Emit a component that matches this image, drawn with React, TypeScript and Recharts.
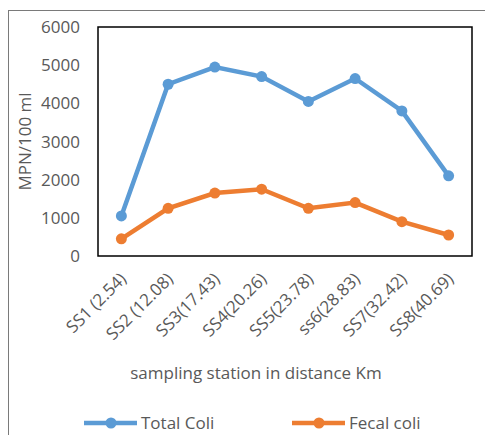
import { LineChart, Line, XAxis, YAxis, Legend, ReferenceArea } from "recharts"

const stations = ["SS1 (2.54)", "SS2 (12.08)", "SS3(17.43)", "SS4(20.26)", "SS5(23.78)", "ss6(28.83)", "SS7(32.42)", "SS8(40.69)"]
const totalColi = [1050, 4500, 4950, 4700, 4050, 4650, 3800, 2100]
const fecalColi = [450, 1250, 1650, 1750, 1250, 1400, 900, 550]
const yTicks = [0, 1000, 2000, 3000, 4000, 5000, 6000]

// stations are placed by index on a numeric axis so the plot box has half a category on each side
const data = stations.map((s, i) => ({ idx: i, station: s, total: totalColi[i], fecal: fecalColi[i] }))
const xTicks = stations.map((_, i) => i)

const FONT = "'Open Sans', sans-serif"
const TEXT = "#595959"
const BLUE = "#5B9BD5"
const ORANGE = "#ED7D31"

const XTick = (props: any) => {
  const { x, y, payload } = props
  return (
    <g transform={`translate(${x + 6},${y + 16})`}>
      <text x={0} y={0} textAnchor="end" transform="rotate(-45)" fill={TEXT} fontSize={17} fontFamily={FONT}>
        {stations[payload.value]}
      </text>
    </g>
  )
}

const LegendContent = () => {
  const items = [
    { name: "Total Coli", color: BLUE, x: 84 },
    { name: "Fecal coli", color: ORANGE, x: 292 },
  ]
  return (
    <svg width={485} height={30} style={{ display: "block" }}>
      {items.map((it) => (
        <g key={it.name}>
          <line x1={it.x} x2={it.x + 53} y1={13} y2={13} stroke={it.color} strokeWidth={4.5} />
          <circle cx={it.x + 27} cy={13} r={5.5} fill={it.color} />
          <text x={it.x + 57} y={19} fill={TEXT} fontSize={17} fontFamily={FONT}>
            {it.name}
          </text>
        </g>
      ))}
    </svg>
  )
}

export default function App() {
  return (
    <div style={{ position: "absolute", left: 0, top: 0, width: 485, height: 435, overflow: "hidden", background: "#fff" }}>
      <div style={{ position: "absolute", left: 8, top: 10, width: 500, height: 460, border: "1px solid #7a7a7a" }} />
      <LineChart
        width={485}
        height={435}
        data={data}
        margin={{ top: 27, right: 13, left: 38, bottom: 0 }}
        style={{ position: "absolute", left: 0, top: 0 }}
      >
        <XAxis
          dataKey="idx"
          type="number"
          domain={[-0.5, stations.length - 0.5]}
          ticks={xTicks}
          height={149}
          interval={0}
          tickLine={false}
          axisLine={false}
          tick={<XTick />}
          label={{ value: "sampling station in distance Km", position: "insideBottom", offset: 26, dx: -29, fill: TEXT, fontSize: 17, fontFamily: FONT }}
        />
        <YAxis
          width={60}
          domain={[0, 6000]}
          ticks={yTicks}
          tickLine={false}
          tickMargin={12}
          axisLine={false}
          tick={{ fill: TEXT, fontSize: 17, fontFamily: FONT }}
          label={{ value: "MPN/100 ml", angle: -90, position: "insideLeft", offset: -13, fill: TEXT, fontSize: 17, fontFamily: FONT, style: { textAnchor: "middle" } }}
        />
        <ReferenceArea y1={0} y2={6000} fill="#fff" fillOpacity={0} stroke="#000" strokeWidth={1.5} ifOverflow="visible" />
        <Legend layout="vertical" align="center" verticalAlign="bottom" content={<LegendContent />} wrapperStyle={{ position: "absolute", left: 0, top: 410, width: 485 }} />
        <Line
          dataKey="total"
          name="Total Coli"
          stroke={BLUE}
          strokeWidth={4.5}
          dot={{ r: 5.5, fill: BLUE, stroke: BLUE, strokeWidth: 0 }}
          isAnimationActive={false}
        />
        <Line
          dataKey="fecal"
          name="Fecal coli"
          stroke={ORANGE}
          strokeWidth={4.5}
          dot={{ r: 5.5, fill: ORANGE, stroke: ORANGE, strokeWidth: 0 }}
          isAnimationActive={false}
        />
      </LineChart>
    </div>
  )
}
